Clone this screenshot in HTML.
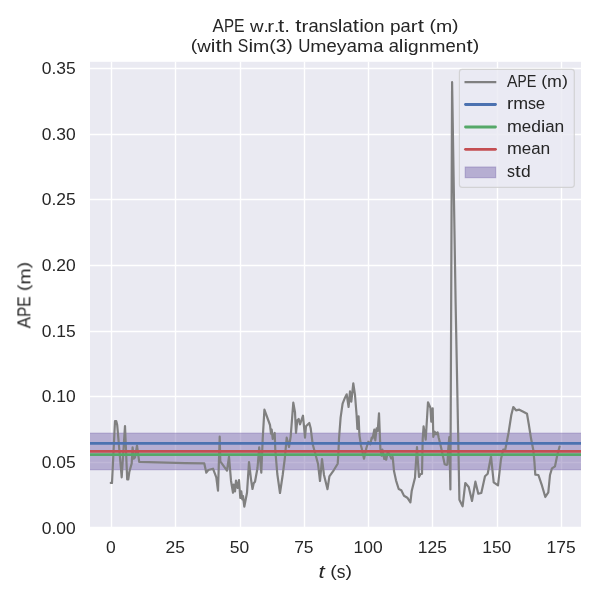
<!DOCTYPE html>
<html lang="en"><head><meta charset="utf-8"><title>APE w.r.t. translation part (m)</title>
<style>html,body{margin:0;padding:0;background:#fff;}body{width:600px;height:600px;overflow:hidden;font-family:"Liberation Sans",sans-serif;}svg{display:block;}text{font-family:"Liberation Sans",sans-serif;fill:#262626;}</style>
</head><body>
<svg width="600" height="600" viewBox="0 0 600 600">
<rect x="0" y="0" width="600" height="600" fill="#ffffff"/>
<rect x="90.00" y="61.80" width="491.00" height="465.20" fill="#eaeaf2"/>
<defs><clipPath id="ax"><rect x="90.00" y="61.80" width="491.00" height="465.20"/></clipPath></defs>
<g clip-path="url(#ax)">
<g stroke="#ffffff" stroke-width="1.39" fill="none" stroke-linecap="butt">
<line x1="111.50" y1="59.80" x2="111.50" y2="529.00"/>
<line x1="175.50" y1="59.80" x2="175.50" y2="529.00"/>
<line x1="240.50" y1="59.80" x2="240.50" y2="529.00"/>
<line x1="304.50" y1="59.80" x2="304.50" y2="529.00"/>
<line x1="368.50" y1="59.80" x2="368.50" y2="529.00"/>
<line x1="432.50" y1="59.80" x2="432.50" y2="529.00"/>
<line x1="497.50" y1="59.80" x2="497.50" y2="529.00"/>
<line x1="561.50" y1="59.80" x2="561.50" y2="529.00"/>
<line x1="88.00" y1="68.50" x2="583.00" y2="68.50"/>
<line x1="88.00" y1="134.50" x2="583.00" y2="134.50"/>
<line x1="88.00" y1="199.50" x2="583.00" y2="199.50"/>
<line x1="88.00" y1="265.50" x2="583.00" y2="265.50"/>
<line x1="88.00" y1="331.50" x2="583.00" y2="331.50"/>
<line x1="88.00" y1="396.50" x2="583.00" y2="396.50"/>
<line x1="88.00" y1="462.50" x2="583.00" y2="462.50"/>
<line x1="88.00" y1="527.50" x2="583.00" y2="527.50"/>
</g>
<rect x="88.0" y="433.15" width="495.0" height="36.60" fill="#8172b2" fill-opacity="0.5" stroke="#8172b2" stroke-opacity="0.5" stroke-width="1"/>
<polyline points="110.8,482.8 112.0,483.0 115.0,421.2 116.3,421.2 117.2,425.0 121.7,477.3 125.0,426.0 127.2,479.4 128.3,479.3 129.3,472.0 131.7,463.5 132.6,447.3 133.7,458.7 135.0,457.5 137.0,445.5 139.2,461.8 185.0,463.1 204.3,463.4 206.3,472.7 208.3,470.0 213.0,468.7 216.3,477.3 218.0,490.7 219.7,436.7 220.3,461.3 227.0,470.7 229.0,456.7 231.0,480.7 233.0,492.7 233.7,484.7 235.0,491.3 236.0,480.7 237.7,488.0 239.0,480.0 240.3,498.0 241.3,491.3 242.3,499.3 243.0,496.0 244.3,506.7 247.0,492.7 249.0,462.0 251.0,479.3 252.5,489.0 253.7,483.2 255.0,481.7 257.5,468.0 259.2,447.3 261.3,472.7 262.7,439.0 264.4,409.7 270.0,425.0 271.0,433.7 271.7,429.7 272.7,439.0 274.7,433.0 275.3,450.0 277.3,474.0 280.0,493.0 282.7,475.0 284.8,458.5 286.7,437.7 289.0,447.0 290.7,436.3 293.3,402.7 295.0,412.3 296.0,433.0 297.3,420.3 298.7,419.0 300.0,424.3 303.0,415.7 305.0,437.7 306.0,426.3 309.3,423.0 310.7,428.3 312.7,444.3 315.3,453.7 318.0,463.7 320.0,481.0 322.0,459.0 324.0,475.0 327.5,489.2 329.4,476.3 333.7,470.3 337.7,463.7 338.3,455.0 339.0,439.0 340.6,417.7 342.6,403.7 345.0,397.7 346.7,394.3 348.6,407.0 350.0,391.3 351.3,401.7 353.3,383.3 355.0,395.0 356.6,415.0 357.4,429.0 358.6,416.3 359.4,435.0 361.0,445.7 361.7,448.3 364.0,458.7 366.3,448.3 368.3,441.7 370.3,444.3 371.7,437.7 372.6,438.3 374.3,429.7 375.3,440.3 376.6,428.3 377.7,431.0 379.0,413.4 380.4,449.0 381.7,455.7 382.4,449.7 384.3,459.0 385.4,455.0 386.2,459.7 387.8,451.7 389.8,455.0 391.3,458.5 392.7,457.0 394.0,471.0 396.0,480.3 398.7,489.0 401.3,490.3 404.0,495.7 407.3,497.7 410.4,502.3 411.7,491.0 415.0,477.7 416.0,461.7 417.0,447.2 417.7,459.0 419.0,477.0 420.4,474.3 422.0,473.7 422.7,439.0 423.6,426.3 425.7,439.7 428.0,402.3 430.4,407.7 431.3,421.7 432.7,408.3 433.3,437.0 434.7,431.7 436.0,434.3 437.6,432.3 438.7,437.7 440.7,445.7 443.3,457.7 444.7,464.3 446.7,465.0 447.4,464.3 448.3,448.3 449.3,437.0 450.4,489.5 452.1,82.2 455.6,302.0 459.4,499.7 462.6,506.3 465.3,483.0 468.7,487.0 472.0,501.0 475.4,481.7 478.3,493.7 481.3,493.0 485.0,476.3 487.7,473.7 491.0,456.3 493.7,482.3 498.0,485.4 501.0,459.0 503.2,449.7 505.3,449.5 508.5,433.0 511.3,415.0 513.3,407.0 516.0,410.3 519.3,409.7 523.3,411.7 527.0,413.7 528.7,423.7 531.0,438.3 533.3,450.0 534.4,461.7 535.3,474.7 538.4,475.0 542.0,485.7 545.3,497.0 548.3,492.3 550.0,475.0 552.0,468.3 555.0,466.3 557.3,455.0 559.6,446.5" fill="none" stroke="#808080" stroke-width="2.20" stroke-linejoin="round" stroke-linecap="round"/>
<line x1="88.0" y1="443.45" x2="583.0" y2="443.45" stroke="#4c72b0" stroke-width="2.78"/>
<line x1="88.0" y1="454.55" x2="583.0" y2="454.55" stroke="#55a868" stroke-width="2.78"/>
<line x1="88.0" y1="451.45" x2="583.0" y2="451.45" stroke="#c44e52" stroke-width="2.78"/>
</g>
<rect x="459.40" y="69.40" width="114.90" height="118.00" rx="2.8" ry="2.8" fill="#eaeaf2" fill-opacity="0.8" stroke="#cccccc" stroke-opacity="0.8" stroke-width="1.15"/>
<line x1="464.5" y1="82.2" x2="496.3" y2="82.2" stroke="#808080" stroke-width="2.20" stroke-linecap="butt"/>
<line x1="465.5" y1="104.5" x2="495.5" y2="104.5" stroke="#4c72b0" stroke-width="2.78" stroke-linecap="round"/>
<line x1="465.5" y1="127.0" x2="495.5" y2="127.0" stroke="#55a868" stroke-width="2.78" stroke-linecap="round"/>
<line x1="465.5" y1="149.3" x2="495.5" y2="149.3" stroke="#c44e52" stroke-width="2.78" stroke-linecap="round"/>
<rect x="465.2" y="167.0" width="30.5" height="10.7" fill="#8172b2" fill-opacity="0.5" stroke="#8172b2" stroke-opacity="0.5" stroke-width="1"/>
<g opacity="0.999">
<text transform="translate(507.00,86.80)" x="0.00 10.45 19.66 29.32 34.17 40.13 55.02" dy="0.00 0.00 0.00 0.00 -1.01 1.01 -1.01" y="0" font-size="15.97"><tspan font-size="16.19" textLength="10.45" lengthAdjust="spacingAndGlyphs">A</tspan><tspan font-size="16.19" textLength="9.21" lengthAdjust="spacingAndGlyphs">P</tspan><tspan font-size="16.19" textLength="9.66" lengthAdjust="spacingAndGlyphs">E</tspan> <tspan font-size="14.61" textLength="5.96" lengthAdjust="spacingAndGlyphs">(</tspan><tspan font-size="15.90" textLength="14.88" lengthAdjust="spacingAndGlyphs">m</tspan><tspan font-size="14.61" textLength="5.96" lengthAdjust="spacingAndGlyphs">)</tspan></text>
<text transform="translate(507.00,109.30)" x="0.00 6.28 20.90 28.86" y="0" font-size="15.97"><tspan font-size="15.90" textLength="6.29" lengthAdjust="spacingAndGlyphs">r</tspan><tspan font-size="15.90" textLength="14.88" lengthAdjust="spacingAndGlyphs">m</tspan><tspan font-size="16.05" textLength="7.96" lengthAdjust="spacingAndGlyphs">s</tspan><tspan font-size="16.00" textLength="9.40" lengthAdjust="spacingAndGlyphs">e</tspan></text>
<text transform="translate(507.00,131.80)" x="0.00 14.88 24.28 33.98 38.22 47.59" y="0" font-size="15.97"><tspan font-size="15.90" textLength="14.88" lengthAdjust="spacingAndGlyphs">m</tspan><tspan font-size="16.00" textLength="9.40" lengthAdjust="spacingAndGlyphs">e</tspan><tspan font-size="16.10" textLength="9.70" lengthAdjust="spacingAndGlyphs">d</tspan><tspan font-size="16.03" textLength="4.25" lengthAdjust="spacingAndGlyphs">i</tspan><tspan font-size="16.00" textLength="9.36" lengthAdjust="spacingAndGlyphs">a</tspan><tspan font-size="15.90" textLength="9.69" lengthAdjust="spacingAndGlyphs">n</tspan></text>
<text transform="translate(507.00,154.30)" x="0.00 14.88 24.28 33.64" y="0" font-size="15.97"><tspan font-size="15.90" textLength="14.88" lengthAdjust="spacingAndGlyphs">m</tspan><tspan font-size="16.00" textLength="9.40" lengthAdjust="spacingAndGlyphs">e</tspan><tspan font-size="16.00" textLength="9.36" lengthAdjust="spacingAndGlyphs">a</tspan><tspan font-size="15.90" textLength="9.69" lengthAdjust="spacingAndGlyphs">n</tspan></text>
<text transform="translate(507.00,176.50)" x="0.00 8.11 13.95" y="0" font-size="15.97"><tspan font-size="16.05" textLength="7.96" lengthAdjust="spacingAndGlyphs">s</tspan><tspan font-size="16.40" textLength="5.70" lengthAdjust="spacingAndGlyphs">t</tspan><tspan font-size="16.10" textLength="9.70" lengthAdjust="spacingAndGlyphs">d</tspan></text>
<text transform="translate(75.80,73.95)" x="-34.02 -24.30 -19.44 -9.72" y="0" font-size="15.97"><tspan font-size="16.31" textLength="9.72" lengthAdjust="spacingAndGlyphs">0</tspan><tspan font-size="16.19" textLength="4.86" lengthAdjust="spacingAndGlyphs">.</tspan><tspan font-size="16.31" textLength="9.72" lengthAdjust="spacingAndGlyphs">3</tspan><tspan font-size="16.26" textLength="9.72" lengthAdjust="spacingAndGlyphs">5</tspan></text>
<text transform="translate(75.80,140.05)" x="-34.02 -24.30 -19.44 -9.72" y="0" font-size="15.97"><tspan font-size="16.31" textLength="9.72" lengthAdjust="spacingAndGlyphs">0</tspan><tspan font-size="16.19" textLength="4.86" lengthAdjust="spacingAndGlyphs">.</tspan><tspan font-size="16.31" textLength="9.72" lengthAdjust="spacingAndGlyphs">3</tspan><tspan font-size="16.31" textLength="9.72" lengthAdjust="spacingAndGlyphs">0</tspan></text>
<text transform="translate(75.80,205.15)" x="-34.02 -24.30 -19.44 -9.72" y="0" font-size="15.97"><tspan font-size="16.31" textLength="9.72" lengthAdjust="spacingAndGlyphs">0</tspan><tspan font-size="16.19" textLength="4.86" lengthAdjust="spacingAndGlyphs">.</tspan><tspan font-size="16.24" textLength="9.72" lengthAdjust="spacingAndGlyphs">2</tspan><tspan font-size="16.26" textLength="9.72" lengthAdjust="spacingAndGlyphs">5</tspan></text>
<text transform="translate(75.80,270.75)" x="-34.02 -24.30 -19.44 -9.72" y="0" font-size="15.97"><tspan font-size="16.31" textLength="9.72" lengthAdjust="spacingAndGlyphs">0</tspan><tspan font-size="16.19" textLength="4.86" lengthAdjust="spacingAndGlyphs">.</tspan><tspan font-size="16.24" textLength="9.72" lengthAdjust="spacingAndGlyphs">2</tspan><tspan font-size="16.31" textLength="9.72" lengthAdjust="spacingAndGlyphs">0</tspan></text>
<text transform="translate(75.80,337.30)" x="-34.02 -24.30 -19.44 -9.72" y="0" font-size="15.97"><tspan font-size="16.31" textLength="9.72" lengthAdjust="spacingAndGlyphs">0</tspan><tspan font-size="16.19" textLength="4.86" lengthAdjust="spacingAndGlyphs">.</tspan><tspan font-size="16.19" textLength="9.72" lengthAdjust="spacingAndGlyphs">1</tspan><tspan font-size="16.26" textLength="9.72" lengthAdjust="spacingAndGlyphs">5</tspan></text>
<text transform="translate(75.80,401.95)" x="-34.02 -24.30 -19.44 -9.72" y="0" font-size="15.97"><tspan font-size="16.31" textLength="9.72" lengthAdjust="spacingAndGlyphs">0</tspan><tspan font-size="16.19" textLength="4.86" lengthAdjust="spacingAndGlyphs">.</tspan><tspan font-size="16.19" textLength="9.72" lengthAdjust="spacingAndGlyphs">1</tspan><tspan font-size="16.31" textLength="9.72" lengthAdjust="spacingAndGlyphs">0</tspan></text>
<text transform="translate(75.80,467.70)" x="-34.02 -24.30 -19.44 -9.72" y="0" font-size="15.97"><tspan font-size="16.31" textLength="9.72" lengthAdjust="spacingAndGlyphs">0</tspan><tspan font-size="16.19" textLength="4.86" lengthAdjust="spacingAndGlyphs">.</tspan><tspan font-size="16.31" textLength="9.72" lengthAdjust="spacingAndGlyphs">0</tspan><tspan font-size="16.26" textLength="9.72" lengthAdjust="spacingAndGlyphs">5</tspan></text>
<text transform="translate(75.80,534.10)" x="-34.02 -24.30 -19.44 -9.72" y="0" font-size="15.97"><tspan font-size="16.31" textLength="9.72" lengthAdjust="spacingAndGlyphs">0</tspan><tspan font-size="16.19" textLength="4.86" lengthAdjust="spacingAndGlyphs">.</tspan><tspan font-size="16.31" textLength="9.72" lengthAdjust="spacingAndGlyphs">0</tspan><tspan font-size="16.31" textLength="9.72" lengthAdjust="spacingAndGlyphs">0</tspan></text>
<text transform="translate(110.95,552.60)" x="-4.86" y="0" font-size="15.97"><tspan font-size="16.31" textLength="9.72" lengthAdjust="spacingAndGlyphs">0</tspan></text>
<text transform="translate(175.25,552.60)" x="-9.72 0.00" y="0" font-size="15.97"><tspan font-size="16.24" textLength="9.72" lengthAdjust="spacingAndGlyphs">2</tspan><tspan font-size="16.26" textLength="9.72" lengthAdjust="spacingAndGlyphs">5</tspan></text>
<text transform="translate(239.55,552.60)" x="-9.72 0.00" y="0" font-size="15.97"><tspan font-size="16.26" textLength="9.72" lengthAdjust="spacingAndGlyphs">5</tspan><tspan font-size="16.31" textLength="9.72" lengthAdjust="spacingAndGlyphs">0</tspan></text>
<text transform="translate(303.85,552.60)" x="-9.72 0.00" y="0" font-size="15.97"><tspan font-size="16.19" textLength="9.72" lengthAdjust="spacingAndGlyphs">7</tspan><tspan font-size="16.26" textLength="9.72" lengthAdjust="spacingAndGlyphs">5</tspan></text>
<text transform="translate(368.15,552.60)" x="-14.58 -4.86 4.86" y="0" font-size="15.97"><tspan font-size="16.19" textLength="9.72" lengthAdjust="spacingAndGlyphs">1</tspan><tspan font-size="16.31" textLength="9.72" lengthAdjust="spacingAndGlyphs">0</tspan><tspan font-size="16.31" textLength="9.72" lengthAdjust="spacingAndGlyphs">0</tspan></text>
<text transform="translate(432.45,552.60)" x="-14.58 -4.86 4.86" y="0" font-size="15.97"><tspan font-size="16.19" textLength="9.72" lengthAdjust="spacingAndGlyphs">1</tspan><tspan font-size="16.24" textLength="9.72" lengthAdjust="spacingAndGlyphs">2</tspan><tspan font-size="16.26" textLength="9.72" lengthAdjust="spacingAndGlyphs">5</tspan></text>
<text transform="translate(496.75,552.60)" x="-14.58 -4.86 4.86" y="0" font-size="15.97"><tspan font-size="16.19" textLength="9.72" lengthAdjust="spacingAndGlyphs">1</tspan><tspan font-size="16.26" textLength="9.72" lengthAdjust="spacingAndGlyphs">5</tspan><tspan font-size="16.31" textLength="9.72" lengthAdjust="spacingAndGlyphs">0</tspan></text>
<text transform="translate(561.05,552.60)" x="-14.58 -4.86 4.86" y="0" font-size="15.97"><tspan font-size="16.19" textLength="9.72" lengthAdjust="spacingAndGlyphs">1</tspan><tspan font-size="16.19" textLength="9.72" lengthAdjust="spacingAndGlyphs">7</tspan><tspan font-size="16.26" textLength="9.72" lengthAdjust="spacingAndGlyphs">5</tspan></text>
<text transform="translate(318.44,578.00)" x="0.04" y="0" font-size="17.42" font-style="italic"><tspan font-size="17.83" textLength="6.19" lengthAdjust="spacingAndGlyphs">t</tspan></text>
<text transform="translate(330.27,578.00)" x="0.00 6.50 15.19" dy="-1.11 1.11 -1.11" y="0" font-size="17.42"><tspan font-size="15.93" textLength="6.50" lengthAdjust="spacingAndGlyphs">(</tspan><tspan font-size="17.51" textLength="8.68" lengthAdjust="spacingAndGlyphs">s</tspan><tspan font-size="15.93" textLength="6.50" lengthAdjust="spacingAndGlyphs">)</tspan></text>
<text transform="translate(30.40,328.36) rotate(-90)" x="0.00 11.40 21.45 31.98 37.28 43.78 60.02" dy="0.00 0.00 0.00 0.00 -1.11 1.11 -1.11" y="0" font-size="17.42"><tspan font-size="17.66" textLength="11.40" lengthAdjust="spacingAndGlyphs">A</tspan><tspan font-size="17.66" textLength="10.05" lengthAdjust="spacingAndGlyphs">P</tspan><tspan font-size="17.66" textLength="10.53" lengthAdjust="spacingAndGlyphs">E</tspan> <tspan font-size="15.93" textLength="6.50" lengthAdjust="spacingAndGlyphs">(</tspan><tspan font-size="17.35" textLength="16.23" lengthAdjust="spacingAndGlyphs">m</tspan><tspan font-size="15.93" textLength="6.50" lengthAdjust="spacingAndGlyphs">)</tspan></text>
<text transform="translate(335.60,31.70)" x="-123.03 -111.63 -101.58 -91.05 -85.72 -72.12 -68.35 -61.50 -57.57 -51.20 -45.90 -40.44 -34.07 -27.21 -17.00 -6.44 2.25 6.88 17.25 23.63 28.26 38.45 49.02 54.31 64.89 75.11 82.12 88.50 93.79 100.30 116.53" dy="0.00 0.00 0.00 0.00 0.00 0.00 0.00 0.00 0.00 0.00 0.00 0.00 0.00 0.00 0.00 0.00 0.00 0.00 0.00 0.00 0.00 0.00 0.00 0.00 0.00 0.00 0.00 0.00 -1.11 1.11 -1.11" y="0" font-size="17.42"><tspan font-size="17.66" textLength="11.40" lengthAdjust="spacingAndGlyphs">A</tspan><tspan font-size="17.66" textLength="10.05" lengthAdjust="spacingAndGlyphs">P</tspan><tspan font-size="17.66" textLength="10.53" lengthAdjust="spacingAndGlyphs">E</tspan> <tspan font-size="17.25" textLength="13.55" lengthAdjust="spacingAndGlyphs">w</tspan><tspan font-size="17.67" textLength="5.30" lengthAdjust="spacingAndGlyphs">.</tspan><tspan font-size="17.35" textLength="6.86" lengthAdjust="spacingAndGlyphs">r</tspan><tspan font-size="17.67" textLength="5.30" lengthAdjust="spacingAndGlyphs">.</tspan><tspan font-size="17.89" textLength="6.21" lengthAdjust="spacingAndGlyphs">t</tspan><tspan font-size="17.67" textLength="5.30" lengthAdjust="spacingAndGlyphs">.</tspan> <tspan font-size="17.89" textLength="6.21" lengthAdjust="spacingAndGlyphs">t</tspan><tspan font-size="17.35" textLength="6.86" lengthAdjust="spacingAndGlyphs">r</tspan><tspan font-size="17.46" textLength="10.21" lengthAdjust="spacingAndGlyphs">a</tspan><tspan font-size="17.35" textLength="10.57" lengthAdjust="spacingAndGlyphs">n</tspan><tspan font-size="17.51" textLength="8.68" lengthAdjust="spacingAndGlyphs">s</tspan><tspan font-size="17.48" textLength="4.64" lengthAdjust="spacingAndGlyphs">l</tspan><tspan font-size="17.46" textLength="10.21" lengthAdjust="spacingAndGlyphs">a</tspan><tspan font-size="17.89" textLength="6.21" lengthAdjust="spacingAndGlyphs">t</tspan><tspan font-size="17.48" textLength="4.64" lengthAdjust="spacingAndGlyphs">i</tspan><tspan font-size="17.46" textLength="10.20" lengthAdjust="spacingAndGlyphs">o</tspan><tspan font-size="17.35" textLength="10.57" lengthAdjust="spacingAndGlyphs">n</tspan> <tspan font-size="17.18" textLength="10.59" lengthAdjust="spacingAndGlyphs">p</tspan><tspan font-size="17.46" textLength="10.21" lengthAdjust="spacingAndGlyphs">a</tspan><tspan font-size="17.35" textLength="6.86" lengthAdjust="spacingAndGlyphs">r</tspan><tspan font-size="17.89" textLength="6.21" lengthAdjust="spacingAndGlyphs">t</tspan> <tspan font-size="15.93" textLength="6.50" lengthAdjust="spacingAndGlyphs">(</tspan><tspan font-size="17.35" textLength="16.23" lengthAdjust="spacingAndGlyphs">m</tspan><tspan font-size="15.93" textLength="6.50" lengthAdjust="spacingAndGlyphs">)</tspan></text>
<text transform="translate(335.00,52.40)" x="-144.37 -137.84 -124.23 -119.44 -113.07 -102.50 -97.21 -86.63 -82.00 -65.76 -59.26 -48.65 -42.15 -36.85 -24.65 -8.42 1.84 11.70 21.91 38.15 48.36 53.66 63.87 68.50 73.13 83.71 94.28 110.51 120.77 131.49 137.87" dy="-1.11 1.11 0.00 0.00 0.00 0.00 0.00 0.00 0.00 -1.11 1.11 -1.11 1.11 0.00 0.00 0.00 0.00 0.00 0.00 0.00 0.00 0.00 0.00 0.00 0.00 0.00 0.00 0.00 0.00 0.00 -1.11" y="0" font-size="17.42"><tspan font-size="15.93" textLength="6.50" lengthAdjust="spacingAndGlyphs">(</tspan><tspan font-size="17.25" textLength="13.55" lengthAdjust="spacingAndGlyphs">w</tspan><tspan font-size="17.48" textLength="4.64" lengthAdjust="spacingAndGlyphs">i</tspan><tspan font-size="17.89" textLength="6.21" lengthAdjust="spacingAndGlyphs">t</tspan><tspan font-size="17.48" textLength="10.57" lengthAdjust="spacingAndGlyphs">h</tspan> <tspan font-size="17.80" textLength="10.58" lengthAdjust="spacingAndGlyphs">S</tspan><tspan font-size="17.48" textLength="4.64" lengthAdjust="spacingAndGlyphs">i</tspan><tspan font-size="17.35" textLength="16.23" lengthAdjust="spacingAndGlyphs">m</tspan><tspan font-size="15.93" textLength="6.50" lengthAdjust="spacingAndGlyphs">(</tspan><tspan font-size="17.80" textLength="10.60" lengthAdjust="spacingAndGlyphs">3</tspan><tspan font-size="15.93" textLength="6.50" lengthAdjust="spacingAndGlyphs">)</tspan> <tspan font-size="17.74" textLength="12.20" lengthAdjust="spacingAndGlyphs">U</tspan><tspan font-size="17.35" textLength="16.23" lengthAdjust="spacingAndGlyphs">m</tspan><tspan font-size="17.46" textLength="10.25" lengthAdjust="spacingAndGlyphs">e</tspan><tspan font-size="17.10" textLength="9.87" lengthAdjust="spacingAndGlyphs">y</tspan><tspan font-size="17.46" textLength="10.21" lengthAdjust="spacingAndGlyphs">a</tspan><tspan font-size="17.35" textLength="16.23" lengthAdjust="spacingAndGlyphs">m</tspan><tspan font-size="17.46" textLength="10.21" lengthAdjust="spacingAndGlyphs">a</tspan> <tspan font-size="17.46" textLength="10.21" lengthAdjust="spacingAndGlyphs">a</tspan><tspan font-size="17.48" textLength="4.64" lengthAdjust="spacingAndGlyphs">l</tspan><tspan font-size="17.48" textLength="4.64" lengthAdjust="spacingAndGlyphs">i</tspan><tspan font-size="17.20" textLength="10.59" lengthAdjust="spacingAndGlyphs">g</tspan><tspan font-size="17.35" textLength="10.57" lengthAdjust="spacingAndGlyphs">n</tspan><tspan font-size="17.35" textLength="16.23" lengthAdjust="spacingAndGlyphs">m</tspan><tspan font-size="17.46" textLength="10.25" lengthAdjust="spacingAndGlyphs">e</tspan><tspan font-size="17.35" textLength="10.57" lengthAdjust="spacingAndGlyphs">n</tspan><tspan font-size="17.89" textLength="6.21" lengthAdjust="spacingAndGlyphs">t</tspan><tspan font-size="15.93" textLength="6.50" lengthAdjust="spacingAndGlyphs">)</tspan></text>
</g>
</svg>
</body></html>
